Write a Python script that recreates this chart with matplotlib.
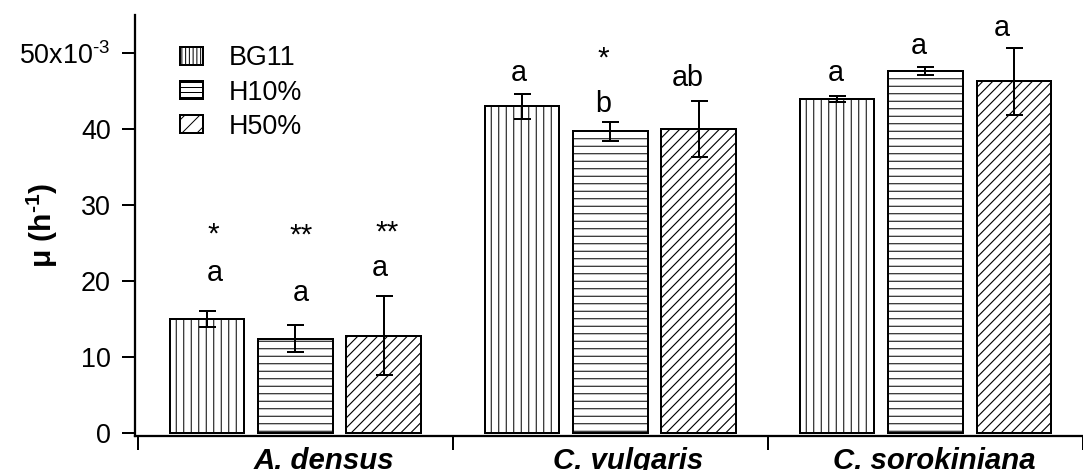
import matplotlib
matplotlib.use('Agg')
import matplotlib.pyplot as plt
from matplotlib.patches import Patch
from matplotlib.transforms import offset_copy
import numpy as np

DPI = 90

# ---- data (growth rate, x10^-3 h^-1) ----
species = ['A. densus', 'C. vulgaris', 'C. sorokiniana']
media = ['BG11', 'H10%', 'H50%']
mu_bg11 = [15.0, 43.0, 44.0]
mu_h10 = [12.4, 39.7, 47.7]
mu_h50 = [12.8, 40.0, 46.3]
err_bg11 = [1.1, 1.6, 0.4]
err_h10 = [1.8, 1.2, 0.5]
err_h50 = [5.2, 3.7, 4.4]

# significance letters / stars above each bar
letters_bg11 = ['a', 'a', 'a']
letters_h10 = ['a', 'b', 'a']
letters_h50 = ['a', 'ab', 'a']
stars_bg11 = ['*', '', '']
stars_h10 = ['**', '*', '']
stars_h50 = ['**', '', '']

# heights where the letters / stars sit
letter_y_bg11 = [20.0, 46.3, 46.3]
letter_y_h10 = [17.4, 42.3, 49.9]
letter_y_h50 = [20.65, 45.7, 52.3]
star_y_bg11 = [25.1, 0, 0]
star_y_h10 = [24.9, 48.2, 0]
star_y_h50 = [25.3, 0, 0]

# small horizontal nudges of the labels (pixels), as in the original
letter_dx_bg11 = [7.5, -3.7, -2]
letter_dx_h10 = [5.5, -7.5, -7]
letter_dx_h50 = [-3.5, -11, -12]
star_dx_bg11 = [6.5, 0, 0]
star_dx_h10 = [5.5, -7.5, 0]
star_dx_h50 = [4, 0, 0]

plt.rcParams['font.family'] = ['Liberation Sans', 'DejaVu Sans']
plt.rcParams['mathtext.fontset'] = 'custom'
plt.rcParams['mathtext.rm'] = 'Liberation Sans'
plt.rcParams['mathtext.bf'] = 'Liberation Sans:bold'
plt.rcParams['hatch.linewidth'] = 0.8

fig = plt.figure(figsize=(1083 / DPI, 470 / DPI), dpi=DPI)
ax = fig.add_axes([135 / 1083, 1 - 436 / 470, 1 - 135 / 1083, (436 - 15) / 470])
ax.set_xlim(-0.509, 2.472)
ax.set_ylim(-0.435, 55.05)

x = np.arange(len(species))
offs = [-0.28, 0.0, 0.28]
width = 0.236
hatches = ['||', '--', None]
series = [
    (mu_bg11, err_bg11, letters_bg11, stars_bg11, letter_y_bg11, star_y_bg11, letter_dx_bg11, star_dx_bg11),
    (mu_h10, err_h10, letters_h10, stars_h10, letter_y_h10, star_y_h10, letter_dx_h10, star_dx_h10),
    (mu_h50, err_h50, letters_h50, stars_h50, letter_y_h50, star_y_h50, letter_dx_h50, star_dx_h50),
]

# pixel scale of the data axes (used for the sparser 45 degree hatch)
p0 = ax.transData.transform((0, 0))
sx = ax.transData.transform((1, 0))[0] - p0[0]
sy = ax.transData.transform((0, 1))[1] - p0[1]

for k, (vals, errs, lets, strs, ly, sty, ldx, sdx) in enumerate(series):
    xs = x + offs[k]
    if hatches[k]:
        bars = ax.bar(xs, vals, width, color='white', edgecolor='black', linewidth=1.6,
                      hatch=hatches[k], zorder=2)
    else:
        bars = ax.bar(xs, vals, width, facecolor='none', edgecolor='black', linewidth=1.6,
                      zorder=2)
        for b in bars:
            bx0, bw, bh = b.get_x(), b.get_width(), b.get_height()
            wpx, hpx = bw * sx, bh * sy
            for c in np.arange(-wpx, hpx + 10, 10.0):
                ln, = ax.plot([bx0, bx0 + bw], [c / sy, (c + wpx) / sy], color='black',
                              lw=0.9, zorder=1.9, solid_capstyle='butt')
                ln.set_clip_path(b)
    ax.errorbar(xs, vals, yerr=errs, fmt='none', ecolor='black', elinewidth=1.6,
                capsize=6.8, capthick=1.6, zorder=3)
    for i in range(len(species)):
        tr = offset_copy(ax.transData, fig=fig, x=ldx[i], y=0, units='dots')
        ax.text(xs[i], ly[i], lets[i], ha='center', va='baseline', fontsize=23, transform=tr)
        if strs[i]:
            tr = offset_copy(ax.transData, fig=fig, x=sdx[i], y=0, units='dots')
            ax.text(xs[i], sty[i], strs[i], ha='center', va='baseline', fontsize=24,
                    transform=tr)

# y axis
ax.set_yticks([0, 10, 20, 30, 40, 50])
ax.set_yticklabels(['0', '10', '20', '30', '40', '50x10$^{\\mathregular{\u20103}}$'])
ax.tick_params(axis='y', direction='out', length=10.4, width=1.6, pad=9, labelsize=21.5)
ax.set_ylabel('$\\mathbf{\\mu}$ (h$^{\\mathbf{\u20101}}$)', fontsize=24, fontweight='bold')
ax.yaxis.set_label_coords(-0.079, 0.5)

# x axis: group names, ticks between groups
label_shift = [0.09, 0.057, 0.028]
ax.set_xticks(x + np.array(label_shift))
ax.set_xticklabels(species, fontsize=23.5, fontweight='bold', fontstyle='italic')
ax.set_xticks([-0.5, 0.5, 1.5, 2.5], minor=True)
ax.tick_params(axis='x', which='major', length=0, pad=9)
ax.tick_params(axis='x', which='minor', direction='out', length=11, width=1.6)

for s in ['top', 'right']:
    ax.spines[s].set_visible(False)
for s in ['left', 'bottom']:
    ax.spines[s].set_linewidth(1.8)

handles = [Patch(facecolor='white', edgecolor='black', linewidth=1.6, hatch=h, label=m)
           for h, m in zip(['||||', '---', '//'], media)]
ax.legend(handles=handles, loc='upper left', bbox_to_anchor=(0.0475, 0.9276),
          frameon=False, fontsize=21.5, handlelength=0.855, handleheight=0.67,
          handletextpad=0.97, labelspacing=0.3, borderpad=0, borderaxespad=0)

fig.savefig('out.png', dpi=DPI, facecolor='white')
plt.close(fig)
